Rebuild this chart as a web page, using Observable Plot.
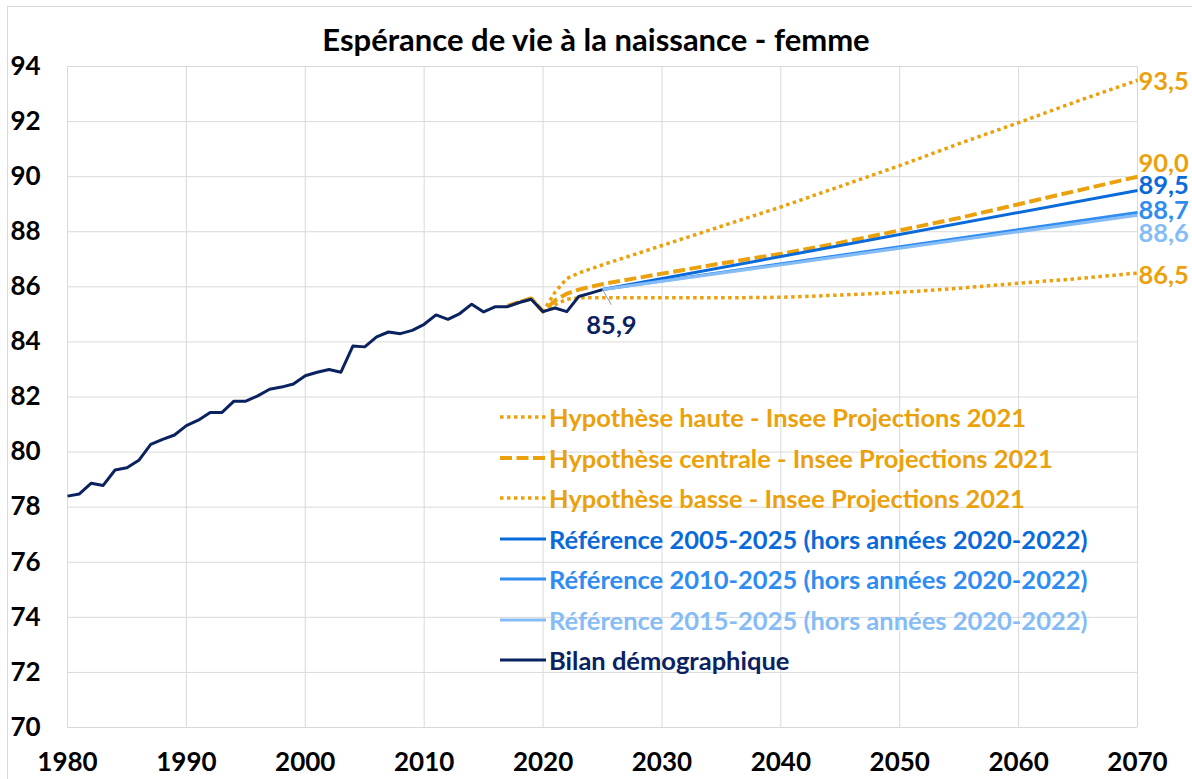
<!DOCTYPE html>
<html>
<head>
<meta charset="utf-8">
<script src="https://cdn.jsdelivr.net/npm/d3@7"></script>
<script src="https://cdn.jsdelivr.net/npm/@observablehq/plot@0.6"></script>
<style>
  html, body { margin: 0; padding: 0; background: #fff; }
  #wrap { position: relative; width: 1192px; height: 779px; overflow: hidden; font-family: Lato, "Open Sans", sans-serif; }
  #frame { position: absolute; left: 7px; top: 6px; width: 1200px; height: 800px; border: 1px solid #d9d9d9; box-sizing: border-box; }
  #title { position: absolute; top: 20px; left: 0; width: 1192px; text-align: center; font-weight: bold; font-size: 31px; color: #000; }
  #chart { position: absolute; left: 0; top: 0; }
  #legend { position: absolute; left: 500px; top: 397px; }
  .row { display: flex; align-items: center; height: 40.5px; font-weight: bold; font-size: 25.5px; white-space: nowrap; }
  .row svg { margin-right: 3px; }
</style>
</head>
<body>
<div id="wrap">
  <div id="frame"></div>
  <div id="chart"></div>
  <div id="title">Espérance de vie à la naissance - femme</div>
  <div id="legend"></div>
</div>
<script>
// ---- Data ----
const histYears = [1980,1981,1982,1983,1984,1985,1986,1987,1988,1989,
  1990,1991,1992,1993,1994,1995,1996,1997,1998,1999,
  2000,2001,2002,2003,2004,2005,2006,2007,2008,2009,
  2010,2011,2012,2013,2014,2015,2016,2017,2018,2019,
  2020,2021,2022,2023,2024,2025];
const bilan = [78.40,78.48,78.87,78.79,79.35,79.43,79.70,80.28,80.46,80.62,
  80.96,81.16,81.44,81.44,81.85,81.85,82.04,82.28,82.36,82.47,
  82.77,82.90,83.00,82.90,83.85,83.82,84.18,84.36,84.30,84.42,
  84.64,84.98,84.82,85.03,85.37,85.09,85.28,85.28,85.43,85.55,
  85.10,85.23,85.10,85.65,85.77,85.90];

const projYears = [2017,2018,2019,2020,2021,2022,2023,2024,2025,2030,2035,2040,2045,2050,2055,2060,2065,2070];
const haute    = [85.30,85.45,85.58,85.10,85.80,86.30,86.50,86.65,86.80,87.50,88.20,88.90,89.65,90.40,91.20,91.96,92.75,93.50];
const centrale = [85.30,85.45,85.58,85.10,85.50,85.75,85.90,86.00,86.10,86.48,86.85,87.20,87.60,88.05,88.50,89.00,89.50,90.00];
const basse    = [85.30,85.45,85.58,85.10,85.35,85.55,85.60,85.60,85.60,85.60,85.60,85.62,85.70,85.80,85.95,86.13,86.30,86.50];

const refYears = [2025, 2070];
const ref0525 = [85.90, 89.50];
const ref1025 = [85.90, 88.70];
const ref1525 = [85.90, 88.60];

const seriesNames = [
  "Hypothèse haute - Insee Projections 2021",
  "Hypothèse centrale - Insee Projections 2021",
  "Hypothèse basse - Insee Projections 2021",
  "Référence 2005-2025 (hors années 2020-2022)",
  "Référence 2010-2025 (hors années 2020-2022)",
  "Référence 2015-2025 (hors années 2020-2022)",
  "Bilan démographique"
];
const xTicks = [1980,1990,2000,2010,2020,2030,2040,2050,2060,2070];
const yTicks = [70,72,74,76,78,80,82,84,86,88,90,92,94];

// ---- Styles ----
const ORANGE = "#eba10c", NAVY = "#0b2260", B1 = "#0a6ad9", B2 = "#2f8cf0", B3 = "#86bcf6";
const styles = [
  {stroke: ORANGE, strokeWidth: 3.5, strokeDasharray: "3.5,3.5"},
  {stroke: ORANGE, strokeWidth: 4,   strokeDasharray: "12,4.5"},
  {stroke: ORANGE, strokeWidth: 3.5, strokeDasharray: "3.5,3.5"},
  {stroke: B1, strokeWidth: 3},
  {stroke: B2, strokeWidth: 3},
  {stroke: B3, strokeWidth: 3},
  {stroke: NAVY, strokeWidth: 3}
];

const toRows = (xs, ys) => xs.map((x, i) => ({year: x, value: ys[i]}));
const series = [
  toRows(projYears, haute), toRows(projYears, centrale), toRows(projYears, basse),
  toRows(refYears, ref0525), toRows(refYears, ref1025), toRows(refYears, ref1525),
  toRows(histYears, bilan)
];

const fmt = v => v.toFixed(1).replace(".", ",");
// end labels (series index, vertical nudge in px)
const endLabelNudge = [[0, 2], [1, -13], [2, 3], [3, -5], [4, -2], [5, 19]];
const endLabels = endLabelNudge.map(([i, dy]) => {
  const last = series[i][series[i].length - 1];
  return {year: last.year, value: last.value, text: fmt(last.value), color: styles[i].stroke, dy};
});
const lastHist = series[6][series[6].length - 1];

const marks = [
  Plot.gridX(xTicks, {stroke: "#d9d9d9", strokeOpacity: 1, strokeWidth: 1}),
  Plot.gridY(yTicks, {stroke: "#d9d9d9", strokeOpacity: 1, strokeWidth: 1}),
];
series.forEach((rows, i) => {
  marks.push(Plot.line(rows, {x: "year", y: "value", ...styles[i], strokeLinejoin: "round", strokeLinecap: "butt"}));
});
endLabels.forEach(l => {
  marks.push(Plot.text([l], {x: "year", y: "value", text: "text", fill: l.color, textAnchor: "start",
    dx: 1, dy: l.dy, fontSize: 25.5, fontWeight: "bold"}));
});
marks.push(Plot.link([lastHist], {x1: "year", y1: "value", x2: d => d.year + 0.75, y2: d => d.value - 0.55, stroke: "#999", strokeWidth: 1}));
marks.push(Plot.text([lastHist], {x: "year", y: "value", text: d => fmt(d.value), fill: NAVY, dx: 9, dy: 36, fontSize: 25.5, fontWeight: "bold"}));
marks.push(Plot.axisX(xTicks, {tickSize: 0, tickPadding: 25, fontSize: 26, fontWeight: "bold", fill: "#000", tickFormat: d => String(d), label: null}));
marks.push(Plot.axisY(yTicks, {tickSize: 0, tickPadding: 0, textAnchor: "start", dx: -57, fontSize: 26, fontWeight: "bold", fill: "#000", label: null}));

const chart = Plot.plot({
  width: 1192, height: 779,
  marginTop: 66, marginBottom: 52, marginLeft: 67, marginRight: 55,
  x: {domain: [1980, 2070], label: null},
  y: {domain: [70, 94], label: null},
  style: {fontFamily: "Lato, 'Open Sans', sans-serif", background: "transparent", overflow: "visible"},
  marks
});
document.getElementById("chart").appendChild(chart);

// legend
const legend = document.getElementById("legend");
seriesNames.forEach((name, i) => {
  const s = styles[i];
  const row = document.createElement("div");
  row.className = "row";
  row.style.color = s.stroke;
  row.innerHTML = `<svg width="46" height="10"><line x1="0" x2="46" y1="5" y2="5" stroke="${s.stroke}" stroke-width="${s.strokeWidth}" ${s.strokeDasharray ? `stroke-dasharray="${s.strokeDasharray}"` : ""}/></svg><span>${name}</span>`;
  legend.appendChild(row);
});
</script>
</body>
</html>
